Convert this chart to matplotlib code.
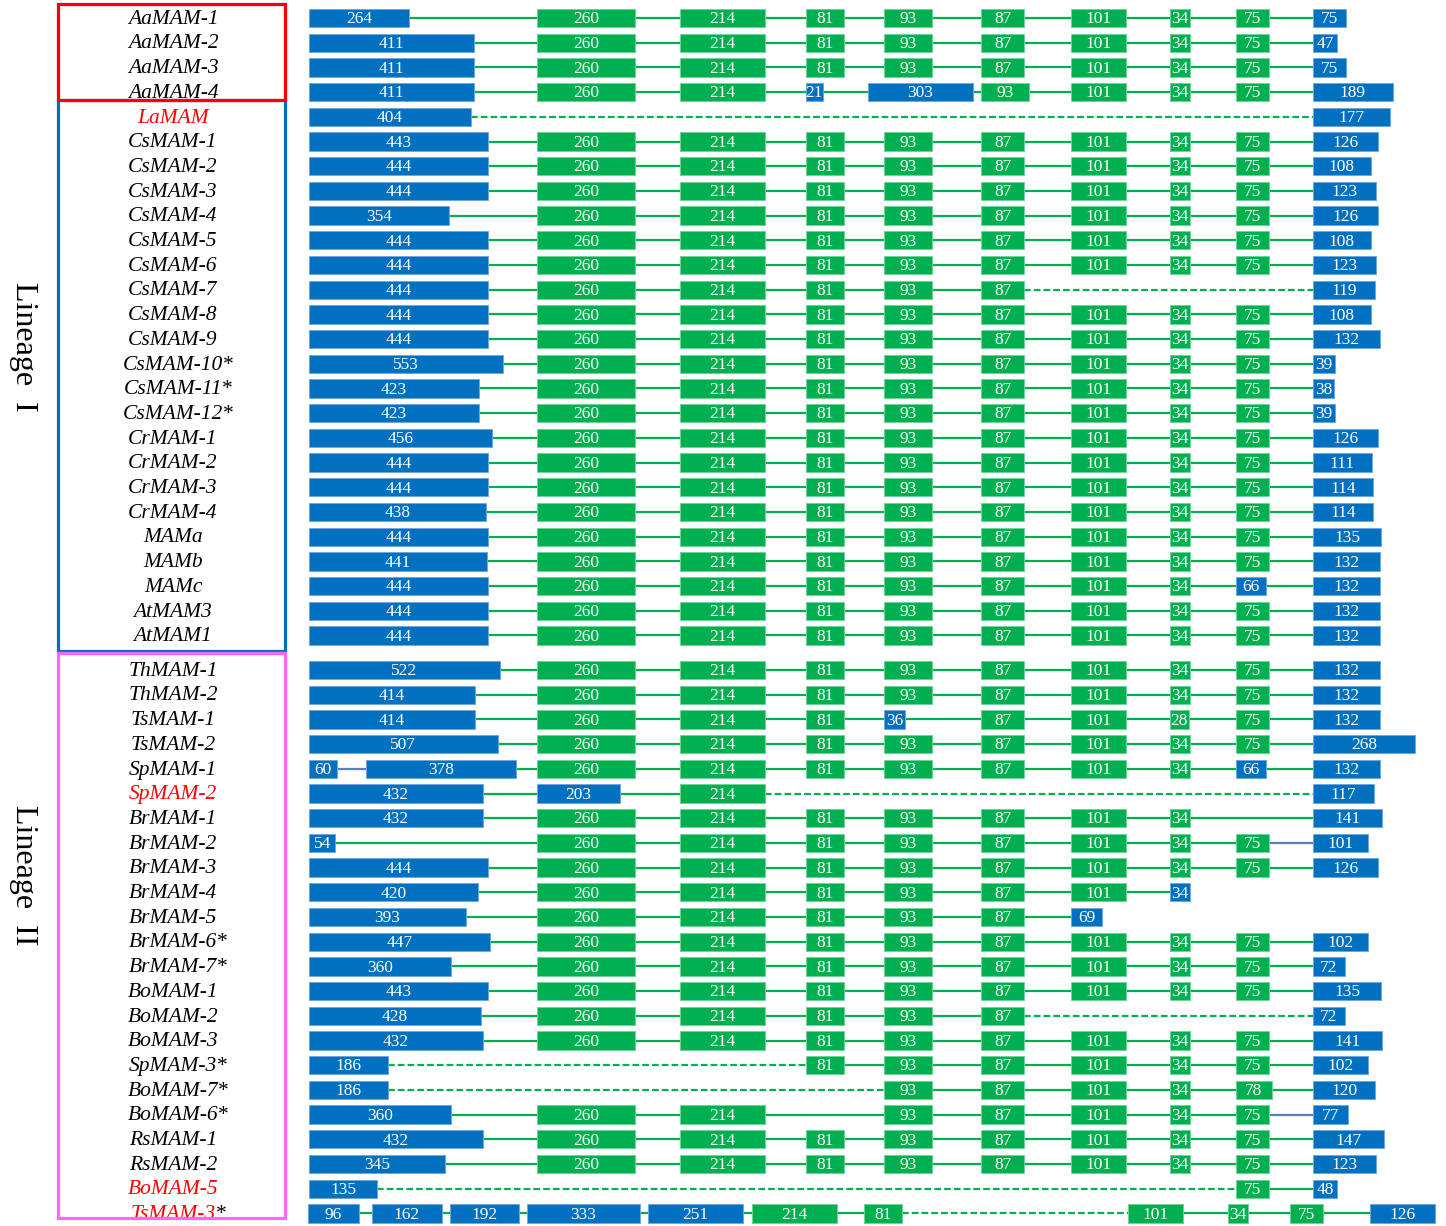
import numpy as np
import matplotlib
matplotlib.use("Agg")
from matplotlib import pyplot as plt
from matplotlib.patches import Rectangle

# gene order, top to bottom
genes = ["AaMAM-1", "AaMAM-2", "AaMAM-3", "AaMAM-4", "LaMAM",
         "CsMAM-1", "CsMAM-2", "CsMAM-3", "CsMAM-4", "CsMAM-5", "CsMAM-6",
         "CsMAM-7", "CsMAM-8", "CsMAM-9", "CsMAM-10*", "CsMAM-11*", "CsMAM-12*",
         "CrMAM-1", "CrMAM-2", "CrMAM-3", "CrMAM-4",
         "MAMa", "MAMb", "MAMc", "AtMAM3", "AtMAM1",
         "ThMAM-1", "ThMAM-2", "TsMAM-1", "TsMAM-2", "SpMAM-1", "SpMAM-2",
         "BrMAM-1", "BrMAM-2", "BrMAM-3", "BrMAM-4", "BrMAM-5", "BrMAM-6*", "BrMAM-7*",
         "BoMAM-1", "BoMAM-2", "BoMAM-3", "SpMAM-3*", "BoMAM-7*", "BoMAM-6*",
         "RsMAM-1", "RsMAM-2", "BoMAM-5", "TsMAM-3*"]
red_genes = ["LaMAM", "SpMAM-2", "BoMAM-5", "TsMAM-3*"]
lineage_names = ["Lineage  I", "Lineage  II"]
lineage_first_row = 26   # ThMAM-1 starts lineage II

# exon lengths (bp), one list per gene
exon_sizes = [
    [264, 260, 214, 81, 93, 87, 101, 34, 75, 75],
    [411, 260, 214, 81, 93, 87, 101, 34, 75, 47],
    [411, 260, 214, 81, 93, 87, 101, 34, 75, 75],
    [411, 260, 214, 21, 303, 93, 101, 34, 75, 189],
    [404, 177],
    [443, 260, 214, 81, 93, 87, 101, 34, 75, 126],
    [444, 260, 214, 81, 93, 87, 101, 34, 75, 108],
    [444, 260, 214, 81, 93, 87, 101, 34, 75, 123],
    [354, 260, 214, 81, 93, 87, 101, 34, 75, 126],
    [444, 260, 214, 81, 93, 87, 101, 34, 75, 108],
    [444, 260, 214, 81, 93, 87, 101, 34, 75, 123],
    [444, 260, 214, 81, 93, 87, 119],
    [444, 260, 214, 81, 93, 87, 101, 34, 75, 108],
    [444, 260, 214, 81, 93, 87, 101, 34, 75, 132],
    [553, 260, 214, 81, 93, 87, 101, 34, 75, 39],
    [423, 260, 214, 81, 93, 87, 101, 34, 75, 38],
    [423, 260, 214, 81, 93, 87, 101, 34, 75, 39],
    [456, 260, 214, 81, 93, 87, 101, 34, 75, 126],
    [444, 260, 214, 81, 93, 87, 101, 34, 75, 111],
    [444, 260, 214, 81, 93, 87, 101, 34, 75, 114],
    [438, 260, 214, 81, 93, 87, 101, 34, 75, 114],
    [444, 260, 214, 81, 93, 87, 101, 34, 75, 135],
    [441, 260, 214, 81, 93, 87, 101, 34, 75, 132],
    [444, 260, 214, 81, 93, 87, 101, 34, 66, 132],
    [444, 260, 214, 81, 93, 87, 101, 34, 75, 132],
    [444, 260, 214, 81, 93, 87, 101, 34, 75, 132],
    [522, 260, 214, 81, 93, 87, 101, 34, 75, 132],
    [414, 260, 214, 81, 93, 87, 101, 34, 75, 132],
    [414, 260, 214, 81, 36, 87, 101, 28, 75, 132],
    [507, 260, 214, 81, 93, 87, 101, 34, 75, 268],
    [60, 378, 260, 214, 81, 93, 87, 101, 34, 66, 132],
    [432, 203, 214, 117],
    [432, 260, 214, 81, 93, 87, 101, 34, 141],
    [54, 260, 214, 81, 93, 87, 101, 34, 75, 101],
    [444, 260, 214, 81, 93, 87, 101, 34, 75, 126],
    [420, 260, 214, 81, 93, 87, 101, 34],
    [393, 260, 214, 81, 93, 87, 69],
    [447, 260, 214, 81, 93, 87, 101, 34, 75, 102],
    [360, 260, 214, 81, 93, 87, 101, 34, 75, 72],
    [443, 260, 214, 81, 93, 87, 101, 34, 75, 135],
    [428, 260, 214, 81, 93, 87, 72],
    [432, 260, 214, 81, 93, 87, 101, 34, 75, 141],
    [186, 81, 93, 87, 101, 34, 75, 102],
    [186, 93, 87, 101, 34, 78, 120],
    [360, 260, 214, 93, 87, 101, 34, 75, 77],
    [432, 260, 214, 81, 93, 87, 101, 34, 75, 147],
    [345, 260, 214, 81, 93, 87, 101, 34, 75, 123],
    [135, 75, 48],
    [96, 162, 192, 333, 251, 214, 81, 101, 34, 75, 126],
]

# column slot of each exon, exon colour (b = blue, g = green),
# intron line (g = solid green, d = dashed green, b = blue)
FULL_SLOTS = "0123456789"
FULL_KINDS = "bggggggggb"
FULL_LINKS = "ggggggggg"

exon_slots = {
    "AaMAM-4": "0123c56789", "LaMAM": "09", "CsMAM-7": "0123459",
    "SpMAM-1": "0a123456789", "SpMAM-2": "0129", "BrMAM-1": "012345679",
    "BrMAM-4": "01234567", "BrMAM-5": "0123456", "BoMAM-2": "0123459",
    "SpMAM-3*": "03456789", "BoMAM-7*": "0456789", "BoMAM-6*": "012456789",
    "BoMAM-5": "089", "TsMAM-3*": "ABCDEFGHIJK",
}
exon_kinds = {
    "AaMAM-4": "bggbbggggb", "LaMAM": "bb", "CsMAM-7": "bgggggb",
    "MAMc": "bgggggggbb", "TsMAM-1": "bgggbggggb",
    "SpMAM-1": "bbgggggggbb", "SpMAM-2": "bbgb", "BrMAM-1": "bgggggggb",
    "BrMAM-4": "bggggggb", "BrMAM-5": "bgggggb", "BoMAM-2": "bgggggb",
    "SpMAM-3*": "bggggggb", "BoMAM-7*": "bgggggb", "BoMAM-6*": "bgggggggb",
    "BoMAM-5": "bgb", "TsMAM-3*": "bbbbbgggggb",
}
intron_kinds = {
    "LaMAM": "d", "CsMAM-7": "gggggd", "SpMAM-1": "bggggggggg",
    "SpMAM-2": "ggd", "BrMAM-1": "gggggggg", "BrMAM-2": "ggggggggb",
    "BrMAM-4": "ggggggg", "BrMAM-5": "gggggg", "BoMAM-2": "gggggd",
    "SpMAM-3*": "dgggggg", "BoMAM-7*": "dggggg", "BoMAM-6*": "gggggggb",
    "BoMAM-5": "dg", "TsMAM-3*": "ggggggdggg",
}

# layout
slot_x = {"0": 309, "a": 366, "1": 537, "2": 680, "3": 806, "c": 868, "4": 884,
          "5": 981, "6": 1071, "7": 1170, "8": 1236, "9": 1313,
          "A": 308, "B": 372, "C": 450, "D": 527, "E": 648, "F": 752,
          "G": 864, "H": 1128, "I": 1228, "J": 1290, "K": 1370}
size_knots = [0, 34, 75, 101, 135, 214, 260, 450, 560]
width_knots = [12, 20, 33, 55, 68, 85, 98, 182, 195]
BLUE = "#0070C0"
GREEN = "#00B050"
box_face = {"b": BLUE, "g": GREEN}
box_edge = {"b": "#6fa9dc", "g": "#6fd49a"}
link_style = {"g": dict(color=GREEN, lw=1.6, ls="-"),
              "d": dict(color=GREEN, lw=1.6, ls=(0, (3, 1.4))),
              "b": dict(color="#5b7cc4", lw=1.6, ls="-")}
h = 0.74
serif = "Liberation Serif"

row_y = [i + (0.4 if i >= lineage_first_row else 0) for i in range(len(genes))]

fig = plt.figure(figsize=(14.46, 12.26), dpi=100)
ax = fig.add_axes([0, 0, 1, 1])
ax.set_xlim(0, 1446)
ax.set_ylim(48.91, -0.73)
ax.axis("off")

for i, gene in enumerate(genes):
    y = row_y[i]
    sizes = exon_sizes[i]
    slots = exon_slots.get(gene, FULL_SLOTS)
    kinds = exon_kinds.get(gene, FULL_KINDS)
    links = intron_kinds.get(gene, FULL_LINKS)
    xs = [slot_x[s] for s in slots]
    ws = []
    for k, n in enumerate(sizes):
        w = np.interp(n, size_knots, width_knots)
        if k + 1 < len(xs):
            w = min(w, xs[k + 1] - xs[k] - 8)
        ws.append(w)
    for k in range(len(sizes) - 1):
        ax.plot([xs[k] + ws[k], xs[k + 1]], [y, y], zorder=1, **link_style[links[k]])
    for x0, w, n, kd in zip(xs, ws, sizes, kinds):
        ax.add_patch(Rectangle((x0, y - h / 2), w, h, facecolor=box_face[kd],
                               edgecolor=box_edge[kd], lw=0.7, zorder=2))
        ax.text(x0 + w / 2, y + 0.05, str(n), color="white", ha="center", va="center",
                fontsize=12.5, family=serif, zorder=3)

    # gene label, asterisk kept upright and black
    name = gene.rstrip("*")
    col = "#FF0000" if gene in red_genes else "black"
    t = ax.text(173, y + 0.05, name, ha="center", va="center", fontsize=15.5,
                style="italic", family=serif, color=col)
    if gene.endswith("*"):
        ax.annotate("*", xy=(1, 0.5), xycoords=t, ha="left", va="center",
                    fontsize=15.5, family=serif, color="black")

# frames around the gene groups (red drawn last so it sits on the shared edge)
for top, bottom, c in [(3.33, 25.63, "#0070C0"), (25.72, 48.6, "#FF66FF"),
                       (-0.55, 3.33, "#FF0000")]:
    ax.add_patch(Rectangle((58, top), 227, bottom - top, fill=False, edgecolor=c,
                           lw=2.3, zorder=4))

ax.text(23, 13.3, lineage_names[0], rotation=270, ha="center", va="center",
        fontsize=23, family=serif)
ax.text(23, 34.7, lineage_names[1], rotation=270, ha="center", va="center",
        fontsize=23, family=serif)

fig.savefig("out.png", dpi=100)
